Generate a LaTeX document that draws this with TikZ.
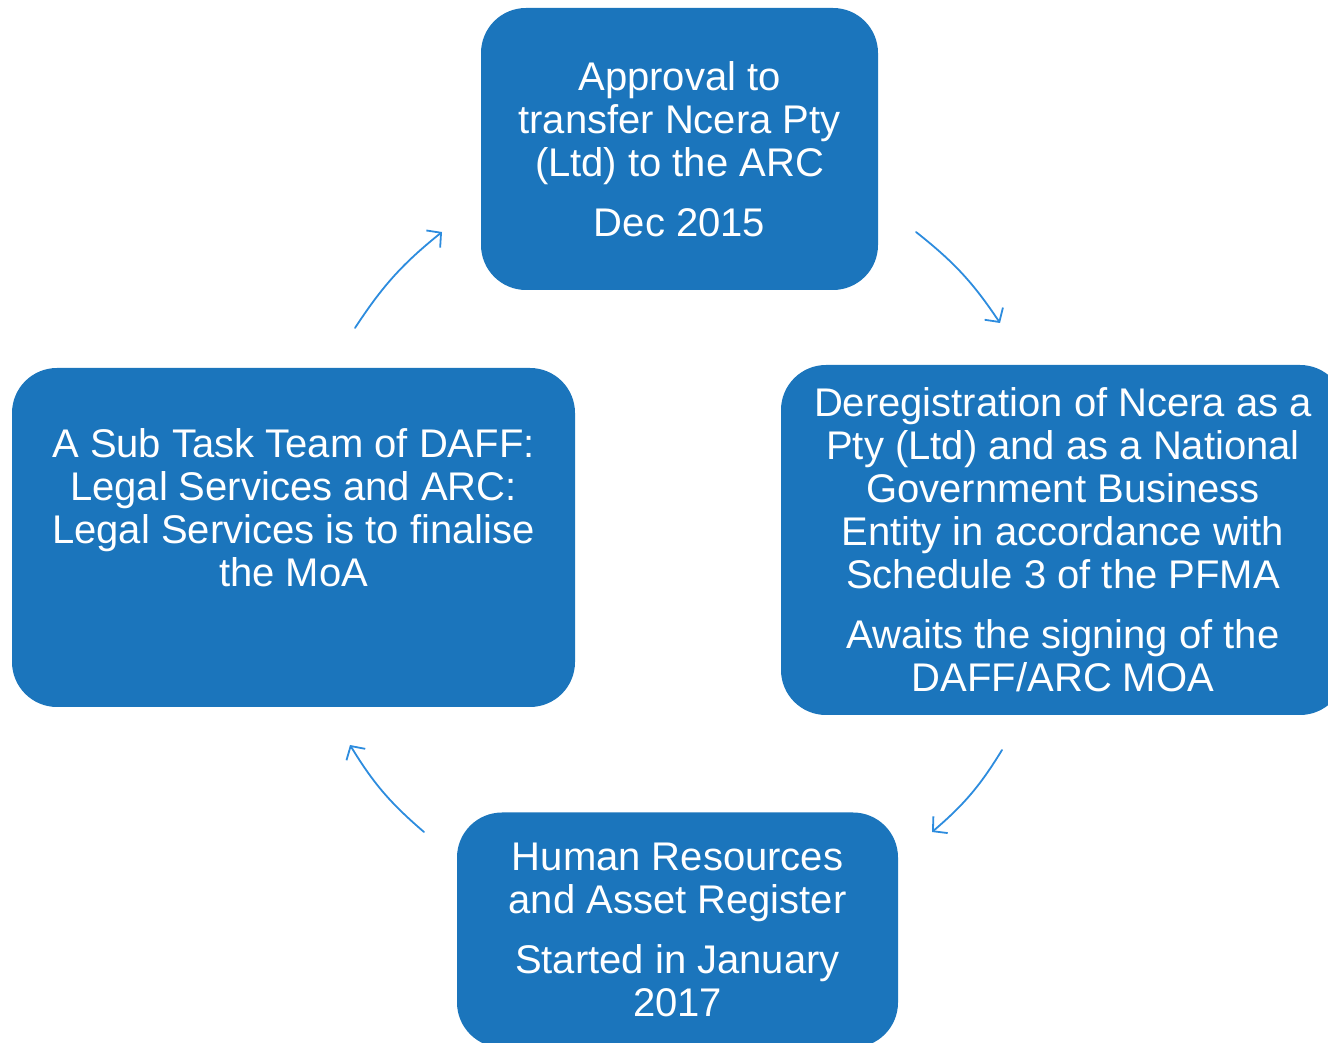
\documentclass[tikz,border=0pt]{standalone}
\usepackage{fontspec}
\setmainfont{Liberation Sans}
\usetikzlibrary{arrows.meta}
\usetikzlibrary{positioning}
\definecolor{BoxBlue}{RGB}{27,117,188}
\definecolor{ArrowBlue}{RGB}{45,140,222}

\tikzset{
  stage/.style={fill=BoxBlue, rounded corners=45pt, text=white, align=center,
    inner sep=0pt, font=\fontsize{40}{43}\selectfont},
  cyclearrow/.style={-{Straight Barb[length=10pt,width=22pt]}, line width=1.8pt,
    color=ArrowBlue, bend left=9}
}

\begin{document}
\begin{tikzpicture}[line cap=round,line join=round,x=1pt,y=1pt]
\useasboundingbox (0,0) rectangle (1328,1042);
% the four stages
\node[stage, minimum width=397pt, minimum height=282pt] (approval) at (679.5,893)
  {Approval to\\ transfer Ncera Pty\\ (Ltd) to the ARC\\[17pt] Dec 2015};
\node[stage, minimum width=564pt, minimum height=350pt] (dereg) at (1063,502)
  {Deregistration of Ncera as a\\ Pty (Ltd) and as a National\\ Government Business\\
   Entity in accordance with\\ Schedule 3 of the PFMA\\[17pt] Awaits the signing of the\\ DAFF/ARC MOA};
\node[stage, minimum width=441pt, minimum height=235pt] (hr) at (677.5,112)
  {Human Resources\\ and Asset Register\\[17pt] Started in January\\ 2017};
\node[stage, minimum width=563pt, minimum height=339pt] (subtask) at (293.5,504.5)
  {A Sub Task Team of DAFF:\\ Legal Services and ARC:\\ Legal Services is to finalise\\ the MoA\\[17pt] ~};
% arrow ends
\coordinate (a1s) at (355,714);
\coordinate (a1e) at (442,810);
\coordinate (a2s) at (916,810);
\coordinate (a2e) at (1000,719);
\coordinate (a3s) at (1002,292);
\coordinate (a3e) at (932,210);
\coordinate (a4s) at (424,210);
\coordinate (a4e) at (350,297);
\draw[cyclearrow] (a1s) to (a1e);
\draw[cyclearrow] (a2s) to (a2e);
\draw[cyclearrow] (a3s) to (a3e);
\draw[cyclearrow] (a4s) to (a4e);
\end{tikzpicture}
\end{document}
